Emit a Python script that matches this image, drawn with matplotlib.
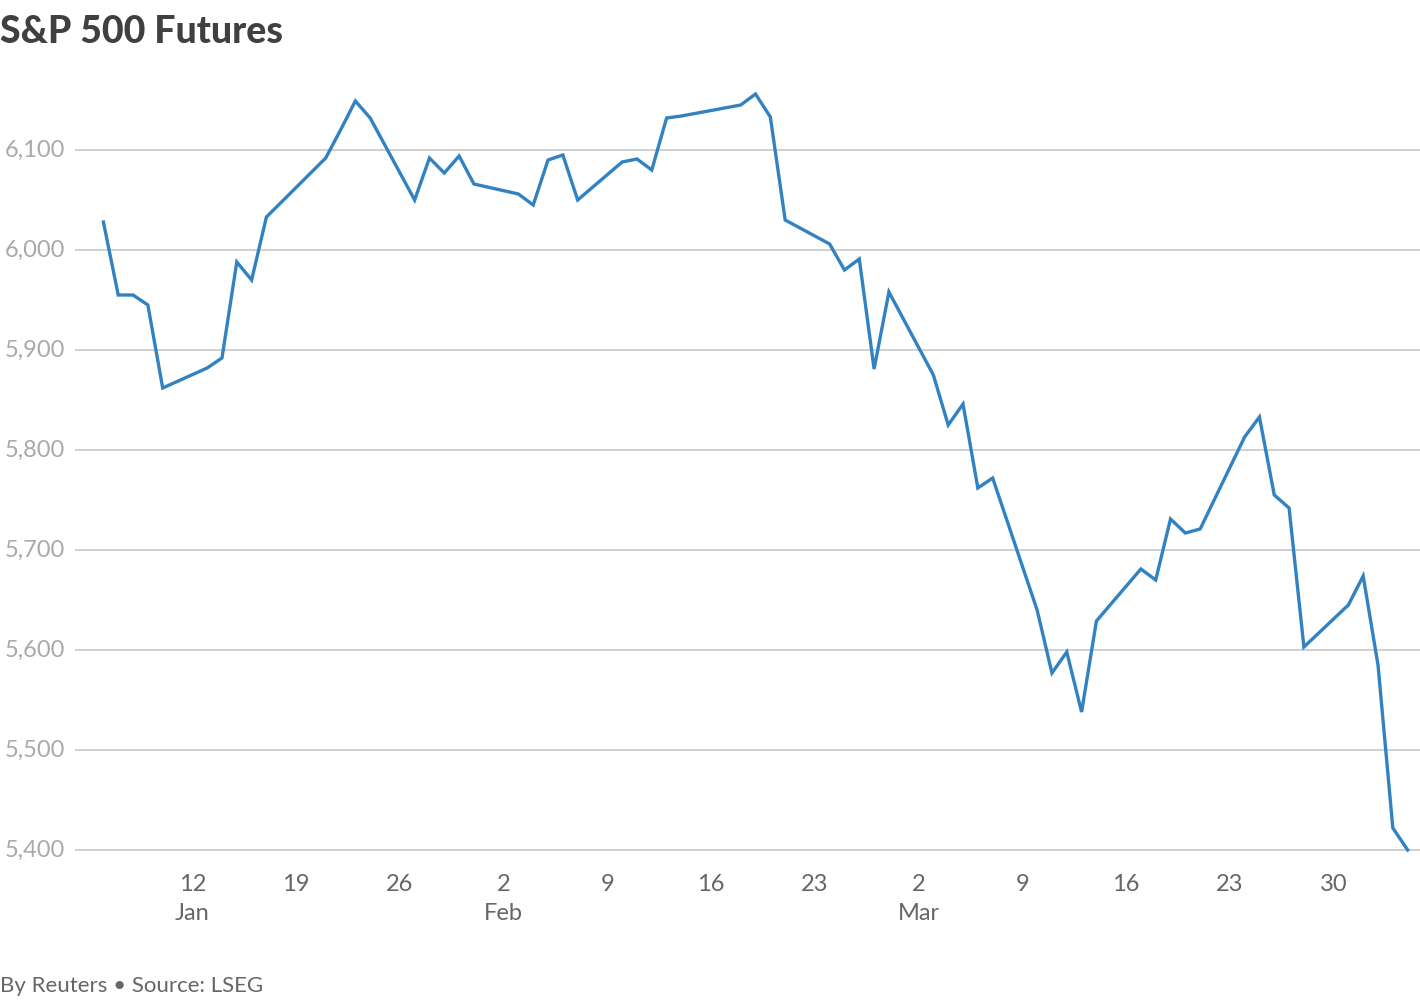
import matplotlib
matplotlib.use("Agg")
import matplotlib.pyplot as plt
import matplotlib.transforms as mtrans
import pandas as pd

dates = ["2025-01-06","2025-01-07","2025-01-08","2025-01-09","2025-01-10",
 "2025-01-13","2025-01-14","2025-01-15","2025-01-16","2025-01-17",
 "2025-01-21","2025-01-22","2025-01-23","2025-01-24",
 "2025-01-27","2025-01-28","2025-01-29","2025-01-30","2025-01-31",
 "2025-02-03","2025-02-04","2025-02-05","2025-02-06","2025-02-07",
 "2025-02-10","2025-02-11","2025-02-12","2025-02-13","2025-02-14",
 "2025-02-18","2025-02-19","2025-02-20","2025-02-21",
 "2025-02-24","2025-02-25","2025-02-26","2025-02-27","2025-02-28",
 "2025-03-03","2025-03-04","2025-03-05","2025-03-06","2025-03-07",
 "2025-03-10","2025-03-11","2025-03-12","2025-03-13","2025-03-14",
 "2025-03-17","2025-03-18","2025-03-19","2025-03-20","2025-03-21",
 "2025-03-24","2025-03-25","2025-03-26","2025-03-27","2025-03-28",
 "2025-03-31","2025-04-01","2025-04-02","2025-04-03","2025-04-04"]
values = [6028,5955,5955,5945,5862,
 5882,5892,5988,5970,6033,
 6092,6120,6149,6132,
 6050,6092,6077,6094,6066,
 6056,6045,6090,6095,6050,
 6088,6091,6080,6132,6134,
 6145,6156,6133,6030,
 6006,5980,5991,5881,5958,
 5875,5825,5846,5762,5772,
 5640,5577,5598,5538,5629,
 5681,5670,5731,5717,5721,
 5813,5833,5755,5742,5603,
 5645,5674,5585,5422,5400]
y_ticks = [5400,5500,5600,5700,5800,5900,6000,6100]
x_ticks = ["2025-01-12","2025-01-19","2025-01-26","2025-02-02","2025-02-09","2025-02-16",
           "2025-02-23","2025-03-02","2025-03-09","2025-03-16","2025-03-23","2025-03-30"]
x_labels = ["12\nJan","19","26","2\nFeb","9","16","23","2\nMar","9","16","23","30"]

plt.rcParams['font.family'] = ['Lato', 'DejaVu Sans']
fig = plt.figure(figsize=(14.2, 10), dpi=100)
ax = fig.add_axes([75/1420, 0.145, 1 - 75/1420, 0.775])
d = pd.to_datetime(dates)
ax.plot(d, values, color="#3282c2", lw=2.4, solid_joinstyle="miter")
ax.set_xlim(pd.Timestamp("2025-01-04 02:00"), pd.Timestamp("2025-04-04 20:00"))
ax.set_ylim(5395, 6170)
ax.set_yticks(y_ticks)
ax.set_yticklabels([])
ax.tick_params(axis='y', length=0)
ax.grid(axis='y', color="#c8c8c8", lw=1.2)
ax.set_axisbelow(True)
tr = mtrans.blended_transform_factory(fig.transFigure, ax.transData)
for v in y_ticks:
    ax.text(5/1420, v, f"{v:,}", transform=tr, ha='left', va='center',
            fontsize=17, color="#a9a9a9")
ax.set_xticks(pd.to_datetime(x_ticks))
ax.set_xticklabels(x_labels, fontsize=17, color="#666666", linespacing=1.45)
ax.tick_params(axis='x', length=0, pad=14)
for s in ax.spines.values():
    s.set_visible(False)
fig.text(0.0, 0.968, "S&P 500 Futures", fontsize=27, fontweight='black', color="#404040", va='center')
fig.text(0.0, 0.014, "By Reuters • Source: LSEG", fontsize=16, color="#666666", va='center')
fig.savefig("out.png", dpi=100)
